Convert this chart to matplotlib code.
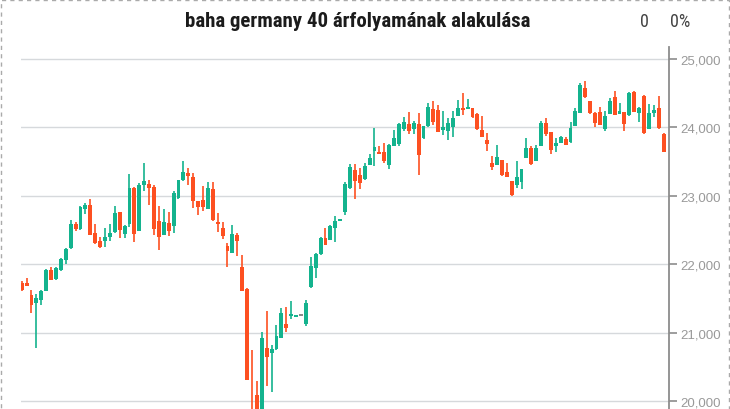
import matplotlib
matplotlib.use("Agg")
import matplotlib.pyplot as plt
from matplotlib import font_manager
from matplotlib.patches import Rectangle
import numpy as np

# ---------------- data ----------------
title = "baha germany 40 árfolyamának alakulása"
change_abs = "0"
change_pct = "0%"
y_ticks = [20000, 21000, 22000, 23000, 24000, 25000]
y_tick_labels = ["20,000", "21,000", "22,000", "23,000", "24,000", "25,000"]

opens = [21725, 21725, 21550, 21435, 21475, 21610, 21915, 21780, 21915, 22060,
         22235, 22590, 22515, 22805, 22865, 22455, 22340, 22340, 22395, 22470,
         22765, 22440, 22590, 23115, 22485, 23155, 23170, 23130, 22630, 22425,
         22600, 22560, 22970, 23230, 23335, 23275, 22925, 22940, 22805, 23100,
         22615, 22530, 22265, 22165, 22425, 21960, 21635, 19850, 20085, 19850,
         20775, 20700, 20760, 20920, 21125, 21240, 21235, 21240, 21125, 21665,
         21945, 22150, 22385, 22355, 22530, 22630, 22765, 23115, 23375, 23305,
         23245, 23450, 23655, 23640, 23640, 23450, 23730, 23755, 23975, 24050,
         23975, 24050, 23845, 24020, 24270, 24255, 23960, 23945, 24005, 24165,
         24285, 24275, 24285, 24195, 23960, 23815, 23480, 23450, 23525, 23350,
         23215, 23155, 23200, 23555, 23700, 23510, 23730, 24065, 23930, 23730,
         23770, 23830, 23785, 24020, 24210, 24575, 24385, 24210, 24225, 23975,
         24195, 24445, 24195, 24225, 24180, 24520, 24210, 24460, 23975, 24210,
         24285, 23905]
highs = [21755, 21800, 21620, 21565, 21620, 21930, 21960, 21960, 22090, 22235,
         22645, 22615, 22850, 22895, 22955, 22590, 22400, 22530, 22590, 22850,
         22770, 22575, 23320, 23125, 23185, 23480, 23230, 23155, 22850, 22805,
         22765, 23070, 23235, 23510, 23405, 23335, 22930, 23145, 23200, 23200,
         22750, 22615, 22310, 22575, 22455, 22135, 21650, 20745, 20290, 21010,
         21315, 20820, 21110, 21360, 21375, 21460, 21250, 21240, 21475, 22105,
         22165, 22395, 22530, 22575, 22705, 22665, 23200, 23465, 23465, 23405,
         23480, 23610, 23990, 23730, 23770, 23755, 23960, 24065, 24150, 24225,
         24095, 24210, 24025, 24355, 24385, 24325, 24240, 24135, 24240, 24400,
         24505, 24415, 24290, 24210, 24165, 23920, 23580, 23745, 23530, 23480,
         23220, 23510, 23395, 23845, 23730, 23745, 24095, 24135, 23935, 23845,
         23875, 23860, 24080, 24285, 24650, 24680, 24390, 24225, 24300, 24240,
         24430, 24530, 24355, 24230, 24520, 24530, 24300, 24475, 24340, 24325,
         24460, 23920]
lows = [21610, 21680, 21285, 20775, 21405, 21605, 21765, 21775, 21905, 22005,
        22220, 22485, 22500, 22735, 22425, 22295, 22235, 22250, 22340, 22455,
        22385, 22385, 22545, 22325, 22480, 23070, 22865, 22425, 22205, 22420,
        22410, 22455, 22955, 23215, 23155, 22820, 22720, 22780, 22800, 22630,
        22470, 22370, 21960, 22160, 22120, 21605, 20300, 19600, 19700, 19750,
        20220, 20130, 20745, 20915, 21010, 21200, 21235, 21240, 21095, 21650,
        21800, 22135, 22275, 22350, 22325, 22630, 22720, 23100, 22955, 23100,
        23230, 23445, 23435, 23610, 23480, 23390, 23725, 23730, 23945, 23905,
        23905, 23305, 23830, 24005, 24035, 23930, 23890, 23815, 23860, 24160,
        24180, 24270, 24140, 23960, 23855, 23655, 23375, 23445, 23290, 23270,
        22995, 23115, 23100, 23550, 23450, 23505, 23725, 23875, 23610, 23640,
        23765, 23740, 23770, 24015, 24205, 24430, 24195, 24005, 24030, 23945,
        24190, 24175, 24190, 23945, 24165, 24220, 24080, 23905, 23970, 24150,
        23975, 23640]
closes = [21620, 21680, 21405, 21505, 21610, 21915, 21770, 21945, 22075, 22220,
          22590, 22515, 22835, 22865, 22425, 22310, 22250, 22395, 22455, 22750,
          22500, 22560, 23115, 22440, 23155, 23215, 23115, 22515, 22395, 22615,
          22485, 23040, 23230, 23350, 23290, 22925, 22835, 22835, 23115, 22645,
          22590, 22410, 22195, 22440, 22340, 21610, 20305, 19700, 19800, 20920,
          20645, 20760, 20950, 21285, 21065, 21270, 21250, 21240, 21430, 21975,
          22150, 22385, 22280, 22560, 22630, 22660, 23170, 23420, 23215, 23185,
          23435, 23555, 23715, 23610, 23510, 23745, 23845, 24050, 24080, 23945,
          24065, 23595, 24020, 24300, 24080, 23930, 24005, 24065, 24135, 24285,
          24255, 24285, 24150, 23975, 23860, 23755, 23420, 23565, 23305, 23275,
          23010, 23275, 23390, 23700, 23465, 23700, 24065, 23905, 23670, 23770,
          23860, 23745, 23990, 24240, 24620, 24445, 24210, 24065, 24035, 24165,
          24385, 24180, 24240, 24050, 24505, 24225, 24285, 23920, 24210, 24255,
          23990, 23640]

# ---------------- style ----------------
GREEN = "#14b38e"
RED = "#fd5021"
GRAY = "#8a8a8a"
GRID = "#d6d9dc"
AXIS = "#8c8c8c"
TICKTXT = "#999999"

# find a condensed / narrow sans family if one is installed
names = {f.name for f in font_manager.fontManager.ttflist}
narrow = None
for cand in ["Liberation Sans Narrow", "Arial Narrow", "Roboto Condensed",
             "DejaVu Sans Condensed", "Open Sans Condensed", "Noto Sans Condensed"]:
    if cand in names:
        narrow = cand
        break
if narrow is None:
    for f in font_manager.fontManager.ttflist:
        if ("Narrow" in f.name or "Condensed" in f.name) and "Mono" not in f.name and "Serif" not in f.name:
            narrow = f.name
            break
if narrow is None:
    narrow = "Liberation Sans"

W, H = 730, 410
fig = plt.figure(figsize=(W / 100, H / 100), dpi=100)

# axes placement in pixels: left 21, right 669, top 48, bottom 420 (below figure edge)
ax = fig.add_axes([21 / W, (H - 420) / H, (669 - 21) / W, (420 - 48) / H])
ax.set_ylim(19737, 25175)
n = len(opens)
ax.set_xlim(-0.14, n + 0.1)

o = np.array(opens, float)
h = np.array(highs, float)
l = np.array(lows, float)
c = np.array(closes, float)
x = np.arange(n)
colors = [GREEN if cc > oo else (RED if cc < oo else GRAY) for oo, cc in zip(o, c)]

ax.vlines(x, l, h, colors=colors, linewidth=1.2, zorder=3)
bottoms = np.minimum(o, c)
heights = np.maximum(np.abs(c - o), 28)
ax.bar(x, heights, bottom=bottoms, width=0.8, color=colors, linewidth=0, zorder=4)

ax.set_yticks(y_ticks)
ax.set_yticklabels(y_tick_labels)
ax.yaxis.tick_right()
ax.tick_params(axis="y", colors=AXIS, labelcolor=TICKTXT, length=6, width=1.2,
               pad=2, labelsize=9.5)
for lab in ax.get_yticklabels():
    lab.set_family("Liberation Sans")
ax.set_xticks([])
ax.grid(axis="y", color=GRID, linewidth=1.0, zorder=0)
for side in ["top", "left", "bottom"]:
    ax.spines[side].set_visible(False)
ax.spines["right"].set_color(AXIS)
ax.spines["right"].set_linewidth(1.3)
ax.set_facecolor("white")

BASE = 1 - 27 / H
t = fig.text(357.5 / W, BASE, title, ha="center", va="baseline",
             fontsize=15.5, fontweight="bold", family=[narrow, "DejaVu Sans"], color="#1b1b1b")
# fit title width to ~345 px as in the reference
renderer = fig.canvas.get_renderer()
wpx = t.get_window_extent(renderer).width
if wpx > 0:
    t.set_fontsize(min(15.5, 15.5 * 345.0 / wpx))

small = 13 if narrow != "Liberation Sans" else 11.5
fig.text(644.5 / W, BASE, change_abs, ha="center", va="baseline",
         fontsize=small, family=[narrow, "DejaVu Sans"], color="#444444")
fig.text(670 / W, BASE, change_pct, ha="left", va="baseline",
         fontsize=small, family=[narrow, "DejaVu Sans"], color="#444444")

border = Rectangle((0.5 / W, -0.1), (W - 1.5) / W, 1.1 - 0.5 / H, transform=fig.transFigure,
                   fill=False, edgecolor="#aaaaaa", linewidth=1.0, linestyle=(0, (3, 3)),
                   clip_on=False)
fig.patches.append(border)

fig.savefig("out.png", dpi=100, facecolor="white")
